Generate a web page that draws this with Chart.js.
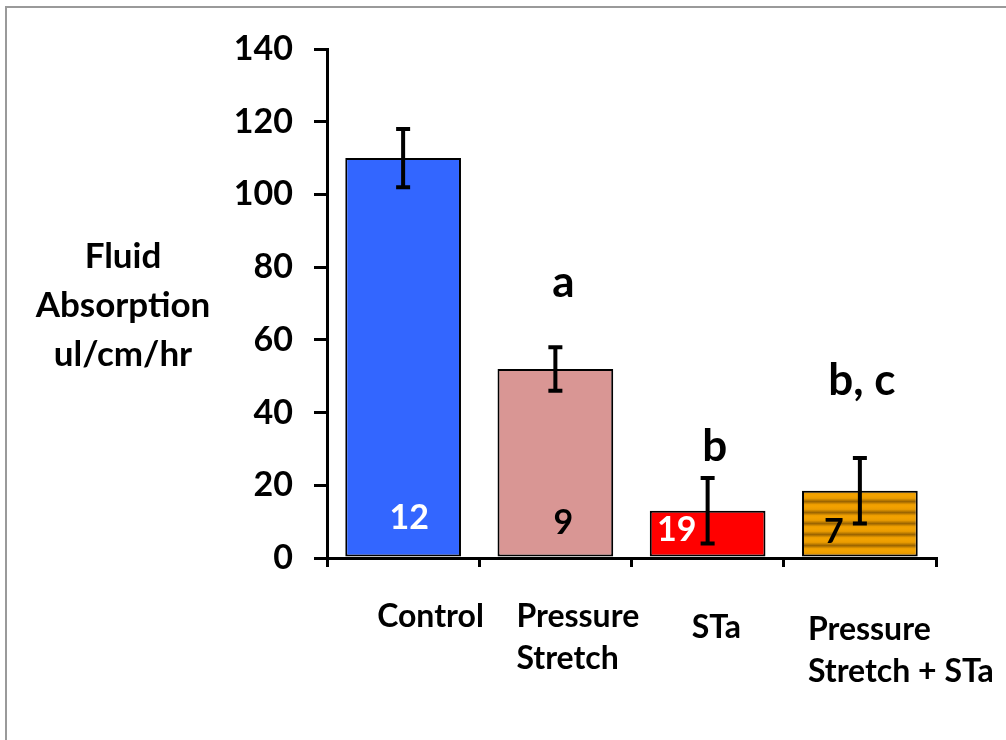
<!DOCTYPE html>
<html>
<head>
<meta charset="utf-8">
<script src="https://cdn.jsdelivr.net/npm/chart.js@4/dist/chart.umd.min.js"></script>
<style>
  html, body { margin: 0; padding: 0; background: #fff; }
  #wrap { position: relative; width: 1006px; height: 740px; }
  #frame { position: absolute; left: 5px; top: 6px; right: 0; bottom: 0;
           border-top: 2px solid #9a9a9a; border-left: 2px solid #9a9a9a; pointer-events: none; }
</style>
</head>
<body>
<div id="wrap">
  <canvas id="chart" width="1006" height="740"></canvas>
  <div id="frame"></div>
</div>
<script>
// data
const categories = ["Control", "Pressure Stretch", "STa", "Pressure Stretch + STa"];
const labelLines = [["Control"], ["Pressure", "Stretch"], ["STa"], ["Pressure", "Stretch + STa"]];
const absorption = [110, 52, 13, 18.5];
const sem = [8, 6, 9, 9];
const nCounts = ["12", "9", "19", "7"];
const letters = ["", "a", "b", "b, c"];
const yTicks = [0, 20, 40, 60, 80, 100, 120, 140];

// styling
const FONT = "Lato, 'Open Sans', sans-serif";
const countColors = ["#ffffff", "#000000", "#ffffff", "#000000"];
const countOffsets = [[6, 40], [8, 35], [-31, 28], [-26, 26]]; // dx from bar centre, dy above axis
const letterOffsets = [[0, 0], [8, 50], [7, 17], [2, 63]];     // dx, dy above error bar top
const catLabelOffsets = [[-26, 59], [-39, 59], [-16, 70], [-52, 72]]; // dx left edge, dy first line centre

// striped gold fill for the last bar
const makeStripes = () => {
  const c = document.createElement("canvas");
  c.width = 8; c.height = 11;
  const g = c.getContext("2d");
  const grd = g.createLinearGradient(0, 0, 0, 11);
  grd.addColorStop(0, "#f4a300");
  grd.addColorStop(0.3, "#eb9c00");
  grd.addColorStop(0.6, "#9a6400");
  grd.addColorStop(0.85, "#eb9c00");
  grd.addColorStop(1, "#f4a300");
  g.fillStyle = grd;
  g.fillRect(0, 0, 8, 11);
  return g.createPattern(c, "repeat");
};

const ctx = document.getElementById("chart").getContext("2d");
const barColors = ["#3366ff", "#d99694", "#ff0000", makeStripes()];

const annotations = {
  id: "annotations",
  afterDatasetsDraw(chart) {
    const c = chart.ctx;
    const x = chart.scales.x, y = chart.scales.y;
    c.save();
    // error bars
    c.strokeStyle = "#000";
    c.lineWidth = 4;
    absorption.forEach((v, i) => {
      const px = x.getPixelForValue(i);
      const top = y.getPixelForValue(v + sem[i]);
      const bot = y.getPixelForValue(v - sem[i]);
      c.beginPath();
      c.moveTo(px, top); c.lineTo(px, bot);
      c.moveTo(px - 7, top); c.lineTo(px + 7, top);
      c.moveTo(px - 7, bot); c.lineTo(px + 7, bot);
      c.stroke();
    });
    // n counts inside bars
    c.font = "bold 34px " + FONT;
    c.textAlign = "center";
    c.textBaseline = "middle";
    nCounts.forEach((t, i) => {
      c.fillStyle = countColors[i];
      c.fillText(t, x.getPixelForValue(i) + countOffsets[i][0], y.getPixelForValue(0) - countOffsets[i][1]);
    });
    // significance letters
    c.font = "bold 44px " + FONT;
    c.fillStyle = "#000";
    c.textBaseline = "alphabetic";
    letters.forEach((t, i) => {
      if (!t) return;
      const top = y.getPixelForValue(absorption[i] + sem[i]);
      c.fillText(t, x.getPixelForValue(i) + letterOffsets[i][0], top - letterOffsets[i][1]);
    });
    // category labels
    c.font = "bold 32px " + FONT;
    c.textAlign = "left";
    c.textBaseline = "middle";
    labelLines.forEach((lines, i) => {
      lines.forEach((ln, j) => {
        c.fillText(ln, x.getPixelForValue(i) + catLabelOffsets[i][0], y.getPixelForValue(0) + catLabelOffsets[i][1] + j * 42);
      });
    });
    // y title
    c.font = "bold 35px " + FONT;
    c.textAlign = "center";
    ["Fluid", "Absorption", "ul/cm/hr"].forEach((ln, j) => c.fillText(ln, 123, 257 + j * 49));
    c.restore();
  }
};

new Chart(ctx, {
  type: "bar",
  data: {
    labels: categories,
    datasets: [{
      data: absorption,
      backgroundColor: barColors,
      borderColor: "#000",
      borderWidth: 2,
      borderSkipped: false,
      barPercentage: 0.76,
      categoryPercentage: 1
    }]
  },
  options: {
    responsive: false,
    animation: false,
    layout: { padding: { top: 49, right: 70, left: 0, bottom: 0 } },
    plugins: { legend: { display: false }, tooltip: { enabled: false } },
    scales: {
      x: {
        afterFit: (s) => { s.height = 182; },
        border: { display: true, color: "#000", width: 3 },
        grid: { drawOnChartArea: false, color: "#000", lineWidth: 3, tickLength: 9, offset: true },
        ticks: { display: false }
      },
      y: {
        min: 0, max: 140,
        afterFit: (s) => { s.width = 327; },
        afterBuildTicks: (s) => { s.ticks = yTicks.map((v) => ({ value: v })); },
        border: { display: true, color: "#000", width: 3 },
        grid: { drawOnChartArea: false, color: "#000", lineWidth: 3, tickLength: 13 },
        ticks: { color: "#000", padding: 21, font: { family: FONT, size: 34, weight: "bold" } }
      }
    }
  },
  plugins: [annotations]
});
</script>
</body>
</html>
